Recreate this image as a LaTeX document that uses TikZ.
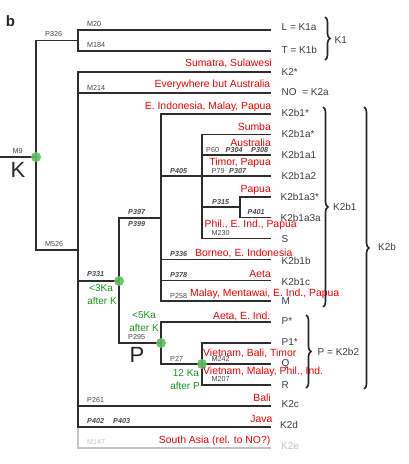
\documentclass[tikz,border=0pt]{standalone}
\usepackage{fontspec}
\setmainfont{Liberation Sans}
\usetikzlibrary{decorations.pathreplacing}
\definecolor{edgec}{RGB}{45,45,45}
\definecolor{tipc}{RGB}{60,60,60}
\definecolor{mutc}{RGB}{70,70,70}
\definecolor{geoc}{RGB}{240,0,0}
\definecolor{agec}{RGB}{20,150,20}
\definecolor{dotc}{RGB}{95,190,95}
\definecolor{greyc}{RGB}{195,195,195}
\tikzset{
  edge/.style={draw=edgec, line width=1.8pt, line join=miter},
  greyedge/.style={draw=greyc, line width=1.8pt},
  tip/.style={anchor=west, inner sep=0pt, font=\fontsize{10}{12}\selectfont, text=tipc},
  mut/.style={anchor=west, inner sep=0pt, font=\fontsize{7.2}{8}\selectfont, text=mutc},
  mutb/.style={anchor=west, inner sep=0pt, font=\fontsize{7.2}{8}\selectfont\bfseries\itshape, text=mutc},
  geo/.style={anchor=east, inner sep=0pt, font=\fontsize{10.4}{12}\selectfont, text=geoc},
  geow/.style={anchor=west, inner sep=0pt, font=\fontsize{10.4}{12}\selectfont, text=geoc},
  age/.style={inner sep=0pt, font=\fontsize{10}{12}\selectfont, text=agec},
  dot/.style={circle, fill=dotc, fill opacity=0.9, minimum size=10pt, inner sep=0pt},
  bracebox/.style={decorate, decoration={brace, amplitude=5pt}, draw=black!85, line width=1.6pt},
}
\begin{document}
\begin{tikzpicture}[x=1pt,y=-1pt]
\useasboundingbox (0,0) rectangle (409,464);
% leaf ends
\coordinate (e0) at (271,30);
\coordinate (e1) at (271,51);
\coordinate (e2) at (271,72);
\coordinate (e3) at (271,93);
\coordinate (e4) at (271,114);
\coordinate (e5) at (271,134.5);
\coordinate (e6) at (271,155);
\coordinate (e7) at (271,176);
\coordinate (e8) at (271,197);
\coordinate (e9) at (271,217.5);
\coordinate (e10) at (271,238.5);
\coordinate (e11) at (271,259.5);
\coordinate (e12) at (271,280.5);
\coordinate (e13) at (271,301);
\coordinate (e14) at (271,322);
\coordinate (e15) at (271,343);
\coordinate (e16) at (271,364);
\coordinate (e17) at (271,385);
\coordinate (e18) at (271,406);
\coordinate (e19) at (271,427);
\coordinate (e20) at (271,448);
% junctions
\coordinate (root0) at (0,157);
\coordinate (k) at (36,157);
\coordinate (j1) at (78,40.5);
\coordinate (j2) at (78,250);
\coordinate (j3) at (119,281);
\coordinate (j4) at (161,218);
\coordinate (j5) at (161,343);
\coordinate (j6) at (202,176);
\coordinate (j7) at (202,207);
\coordinate (j8) at (240,207);
\coordinate (j9) at (202,364);

% grey branch
\draw[greyedge] (e19 -| j2) |- (e20);
% tree
\draw[edgec, line width=1.3pt] (root0) -- (k);
\draw[edge] (j1) -| (k) |- (j2);
\draw[edge] (e0) -| (j1) |- (e1);
\draw[edge] (e2) -| (j2) |- (e19);
\draw[edge] (e3 -| j2) -- (e3);
\draw[edge] (e18 -| j2) -- (e18);
\draw[edge] (j3 -| j2) -- (j3);
\draw[edge] (j4) -| (j3) |- (j5);
\draw[edge] (e4) -| (j4) |- (e13);
\draw[edge] (e7 -| j4) -- (e7);
\draw[edge] (e11 -| j4) -- (e11);
\draw[edge] (e12 -| j4) -- (e12);
\draw[edge] (e5) -| (j6) |- (e10);
\draw[edge] (e6 -| j6) -- (e6);
\draw[edge] (j7) -- (j8);
\draw[edge] (e8) -| (j8) |- (e9);
\draw[edge] (e14) -| (j5) |- (j9);
\draw[edge] (e15) -| (j9) |- (e17);
\draw[edge] (j9) -- (e16);

% dots
\node[dot] (dk) at (k) {};
\node[dot] (d3) at (j3) {};
\node[dot] (d5) at (j5) {};
\node[dot] (d9) at (j9) {};

% panel letter and big labels
\node[inner sep=0pt, anchor=base, font=\fontsize{15}{16}\selectfont\bfseries, text=black!85] (lb) at (10.5,26) {b};
\node[inner sep=0pt, font=\fontsize{22}{24}\selectfont, text=black!85] (bigK) at (18,170) {K};
\node[inner sep=0pt, font=\fontsize{22}{24}\selectfont, text=black!85] (bigP) at (137,355) {P};

% mutation labels
\node[mut] (mM9) at (12.5,151.5) {M9};
\node[mut] (mP326) at (45,34) {P326};
\node[mut] (mM20) at (87,24.5) {M20};
\node[mut] (mM184) at (87,45.5) {M184};
\node[mut] (mM214) at (87,87.5) {M214};
\node[mut] (mM526) at (45,244) {M526};
\node[mutb] (mP331) at (87,274.5) {P331};
\node[mutb] (mP397) at (128,212.5) {P397};
\node[mutb] (mP399) at (128,224) {P399};
\node[mutb] (mP405) at (170,171) {P405};
\node[mut] (mP60) at (206,150) {P60};
\node[mutb] (mP304) at (225.5,150) {P304};
\node[mutb] (mP308) at (251,150) {P308};
\node[mut] (mP79) at (211.5,171) {P79};
\node[mutb] (mP307) at (229,171) {P307};
\node[mutb] (mP315) at (212,202) {P315};
\node[mutb] (mP401) at (247.5,212.5) {P401};
\node[mut] (mM230) at (211.5,233.5) {M230};
\node[mutb] (mP336) at (170,254) {P336};
\node[mutb] (mP378) at (170,275) {P378};
\node[mut] (mP258) at (170,296) {P258};
\node[mut] (mP295) at (128,337) {P295};
\node[mut] (mP27) at (170,358.5) {P27};
\node[mut] (mM242) at (211.5,358.5) {M242};
\node[mut] (mM207) at (211.5,379.5) {M207};
\node[mut] (mP261) at (87,400.5) {P261};
\node[mutb] (mP402) at (87,421.5) {P402};
\node[mutb] (mP403) at (113,421.5) {P403};
\node[mut, text=greyc] (mM147) at (87,442) {M147};

% age labels
\node[age] (a1) at (101,288.5) {<3Ka};
\node[age] (a2) at (102,301) {after K};
\node[age] (a3) at (144,315) {<5Ka};
\node[age] (a4) at (144,328) {after K};
\node[age] (a5) at (186,373) {12 Ka};
\node[age] (a6) at (185,386) {after P};

% geography labels
\node[geo] (g1) at (272,63) {Sumatra, Sulawesi};
\node[geo] (g2) at (270.5,85) {Everywhere but Australia};
\node[geo] (g3) at (271.5,107) {E. Indonesia, Malay, Papua};
\node[geo] (g4) at (271,127) {Sumba};
\node[geo] (g5) at (271,143) {Australia};
\node[geo] (g6) at (271,162.5) {Timor, Papua};
\node[geo] (g7) at (271,190) {Papua};
\node[geow] (g8) at (204.5,225) {Phil., E. Ind., Papua};
\node[geow] (g9) at (195,253) {Borneo, E. Indonesia};
\node[geo] (g10) at (271,273.5) {Aeta};
\node[geow] (g11) at (190,294) {Malay, Mentawai, E. Ind., Papua};
\node[geo] (g12) at (270.5,316) {Aeta, E. Ind.};
\node[geow] (g13) at (203,353) {Vietnam, Bali, Timor};
\node[geow] (g14) at (203,372) {Vietnam, Malay, Phil., Ind.};
\node[geo] (g15) at (271,398) {Bali};
\node[geo] (g16) at (272.5,419) {Java};
\node[geo] (g17) at (270.5,441) {South Asia (rel. to NO?)};

% tip labels
\node[tip] (tL) at (281.5,27) {L = K1a};
\node[tip] (tT) at (281.5,50) {T = K1b};
\node[tip] (tK2s) at (281.5,72.5) {K2*};
\node[tip] (tNO) at (281.5,92.5) {NO\ \ = K2a};
\node[tip] (tK2b1s) at (281.5,113) {K2b1*};
\node[tip] (tK2b1as) at (281.5,134) {K2b1a*};
\node[tip] (tK2b1a1) at (281.5,155) {K2b1a1};
\node[tip] (tK2b1a2) at (281.5,176) {K2b1a2};
\node[tip] (tK2b1a3s) at (280.5,196.5) {K2b1a3*};
\node[tip] (tK2b1a3a) at (280.5,217.5) {K2b1a3a};
\node[tip] (tS) at (281.5,239) {S};
\node[tip] (tK2b1b) at (281.5,260.5) {K2b1b};
\node[tip] (tK2b1c) at (281.5,281.5) {K2b1c};
\node[tip] (tM) at (281.5,301.5) {M};
\node[tip] (tPs) at (281.5,321.5) {P*};
\node[tip] (tP1s) at (281.5,342.5) {P1*};
\node[tip] (tQ) at (281.5,363.5) {Q};
\node[tip] (tR) at (281.5,385) {R};
\node[tip] (tK2c) at (281.5,404.5) {K2c};
\node[tip] (tK2d) at (280,425) {K2d};
\node[tip, text=greyc] (tK2e) at (281,446) {K2e};

% braces
\coordinate (b1a) at (325,17);
\coordinate (b1b) at (325,60);
\coordinate (b2a) at (323,107);
\coordinate (b2b) at (323,307);
\coordinate (b3a) at (364,107);
\coordinate (b3b) at (364,389);
\coordinate (b4a) at (306,315);
\coordinate (b4b) at (306,388);
\draw[bracebox] (b1a) -- (b1b);
\draw[bracebox] (b2a) -- (b2b);
\draw[bracebox] (b3a) -- (b3b);
\draw[bracebox] (b4a) -- (b4b);
\node[tip] (cK1) at (334.5,40) {K1};
\node[tip] (cK2b1) at (333,207) {K2b1};
\node[tip] (cK2b) at (378,247) {K2b};
\node[tip] (cK2b2) at (317.5,352) {P = K2b2};
\end{tikzpicture}
\end{document}
